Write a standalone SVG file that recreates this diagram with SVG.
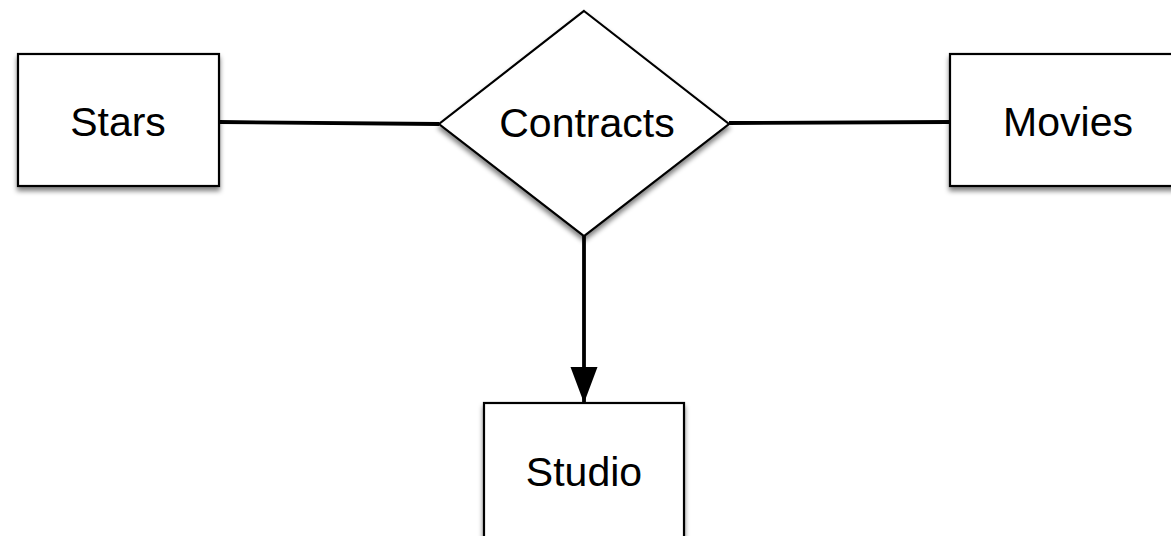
<svg xmlns="http://www.w3.org/2000/svg" width="1171" height="536" viewBox="0 0 1171 536">
  <style>
    .shape { fill: #ffffff; stroke: #000000; stroke-width: 2.2; filter: url(#shadow); }
    .label { font-family: "Liberation Sans", Arial, sans-serif; font-size: 41px; fill: #000000; text-anchor: middle; }
    .link { stroke: #000000; stroke-width: 3.8; fill: none; }
  </style>
  <defs>
    <filter id="shadow" x="-10%" y="-10%" width="120%" height="130%">
      <feGaussianBlur in="SourceAlpha" stdDeviation="2.5"/>
      <feOffset dx="0" dy="4" result="blur"/>
      <feComponentTransfer><feFuncA type="linear" slope="0.5"/></feComponentTransfer>
      <feMerge><feMergeNode/><feMergeNode in="SourceGraphic"/></feMerge>
    </filter>
    <marker id="arrow" markerUnits="userSpaceOnUse" markerWidth="38" markerHeight="28" refX="36" refY="13.5" orient="auto">
      <path d="M0,0 L36,13.5 L0,27 Z" fill="#000000"/>
    </marker>
  </defs>
  <rect width="1171" height="536" fill="#ffffff"/>

  <g id="connectors">
    <line class="link" x1="219" y1="122" x2="439" y2="124"/>
    <line class="link" x1="729" y1="123" x2="950" y2="122"/>
    <line class="link" x1="584" y1="236" x2="584" y2="403" marker-end="url(#arrow)"/>
  </g>

  <g id="stars">
    <rect class="shape" x="18" y="54" width="201" height="132"/>
    <text class="label" x="118" y="136">Stars</text>
  </g>

  <g id="contracts">
    <polygon class="shape" points="584,11 729,124 584,236 439,124"/>
    <text class="label" x="587" y="137">Contracts</text>
  </g>

  <g id="movies">
    <rect class="shape" x="950" y="54" width="236" height="132"/>
    <text class="label" x="1068" y="136">Movies</text>
  </g>

  <g id="studio">
    <rect class="shape" x="484" y="403" width="200" height="150"/>
    <text class="label" x="584" y="486">Studio</text>
  </g>
</svg>
